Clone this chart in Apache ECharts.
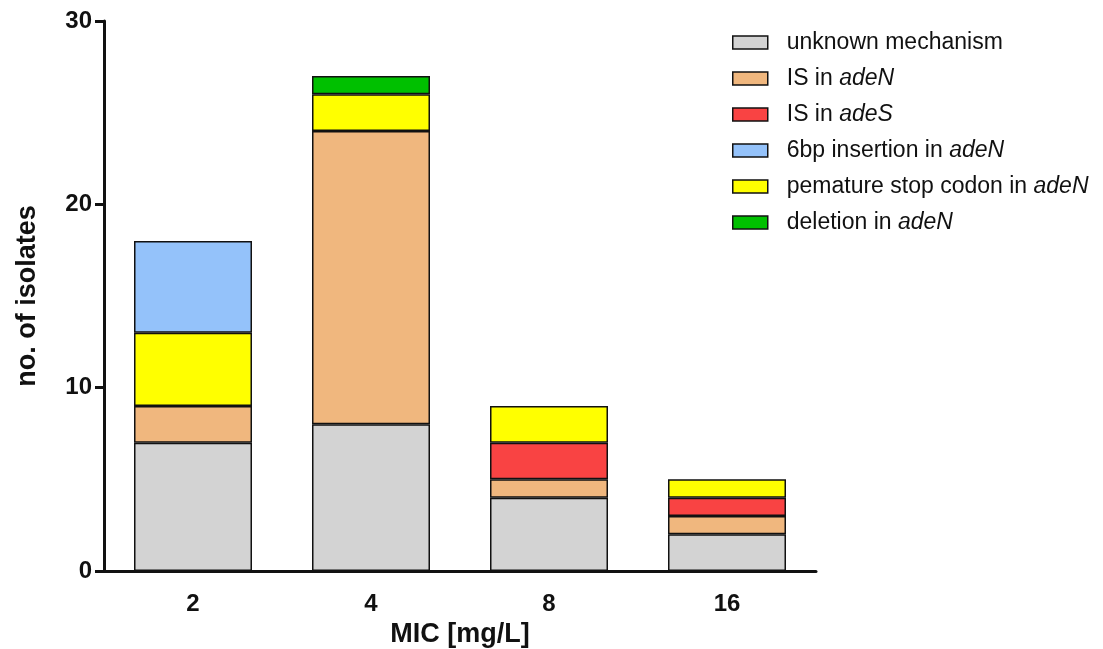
<!DOCTYPE html>
<html>
<head>
<meta charset="utf-8">
<script src="https://cdn.jsdelivr.net/npm/echarts@6/dist/echarts.min.js"></script>
<style>html,body{margin:0;padding:0;background:#fff}#c{width:1103px;height:649px}</style>
</head>
<body>
<div id="c"></div>
<script>
const categories = ['2', '4', '8', '16'];
const unknownMechanism = [7, 8, 4, 2];
const isAdeN = [2, 16, 1, 1];
const isAdeS = [0, 0, 2, 1];
const stopCodon = [4, 2, 2, 1];
const insertion6bp = [5, 0, 0, 0];
const deletionAdeN = [0, 1, 0, 0];
const yTicks = [0, 10, 20, 30];

const FONT = "'Liberation Sans', Arial, Helvetica, sans-serif";
const labels = {
  unknown: 'unknown mechanism',
  adeN: 'IS in {i|adeN}',
  adeS: 'IS in {i|adeS}',
  ins: '6bp insertion in {i|adeN}',
  stop: 'pemature stop codon in {i|adeN}',
  del: 'deletion in {i|adeN}'
};
function mk(key, data, color) {
  return {
    name: key, type: 'bar', stack: 'total', barWidth: 118,
    data: data.map(v => v === 0 ? null : v),
    itemStyle: { color: color, borderColor: '#111', borderWidth: 1.5 },
    emphasis: { disabled: true }
  };
}
const chart = echarts.init(document.getElementById('c'));
chart.setOption({
  animation: false,
  grid: { left: 104, right: 287, top: 21, bottom: 78, containLabel: false, outerBoundsMode: 'none' },
  legend: {
    orient: 'vertical', left: 727, top: 26,
    icon: 'rect',
    itemWidth: 35, itemHeight: 13, itemGap: 13,
    data: ['unknown', 'adeN', 'adeS', 'ins', 'stop', 'del'],
    formatter: n => labels[n],
    textStyle: {
      fontFamily: FONT, fontSize: 23, color: '#111', lineHeight: 22,
      padding: [0, 0, 0, 14],
      rich: { i: { fontFamily: FONT, fontSize: 23, fontStyle: 'italic', color: '#111', lineHeight: 22 } }
    },
    itemStyle: { borderColor: '#111', borderWidth: 1.5 },
    selectedMode: false
  },
  xAxis: {
    type: 'category', data: categories,
    name: 'MIC [mg/L]', nameLocation: 'middle', nameGap: 50,
    nameTextStyle: { fontFamily: FONT, fontSize: 27, fontWeight: 'bold', color: '#111' },
    axisLine: { lineStyle: { color: '#111', width: 3 } },
    axisTick: { alignWithLabel: true, length: 8, lineStyle: { color: '#111', width: 3 } },
    axisLabel: { fontFamily: FONT, fontSize: 24, fontWeight: 'bold', color: '#111', margin: 21 }
  },
  yAxis: {
    type: 'value', min: yTicks[0], max: yTicks[yTicks.length - 1], interval: 10,
    name: 'no. of isolates', nameLocation: 'middle', nameGap: 63, nameRotate: 90,
    nameTextStyle: { fontFamily: FONT, fontSize: 27, fontWeight: 'bold', color: '#111' },
    splitLine: { show: false },
    axisLine: { show: true, lineStyle: { color: '#111', width: 3 } },
    axisTick: { show: true, length: 9, lineStyle: { color: '#111', width: 3 } },
    axisLabel: { fontFamily: FONT, fontSize: 24, fontWeight: 'bold', color: '#111', margin: 12 }
  },
  series: [
    mk('unknown', unknownMechanism, '#D3D3D3'),
    mk('adeN', isAdeN, '#F0B77E'),
    mk('adeS', isAdeS, '#F94343'),
    mk('stop', stopCodon, '#FFFF00'),
    mk('ins', insertion6bp, '#94C2FA'),
    mk('del', deletionAdeN, '#00C000')
  ]
});
</script>
</body>
</html>
